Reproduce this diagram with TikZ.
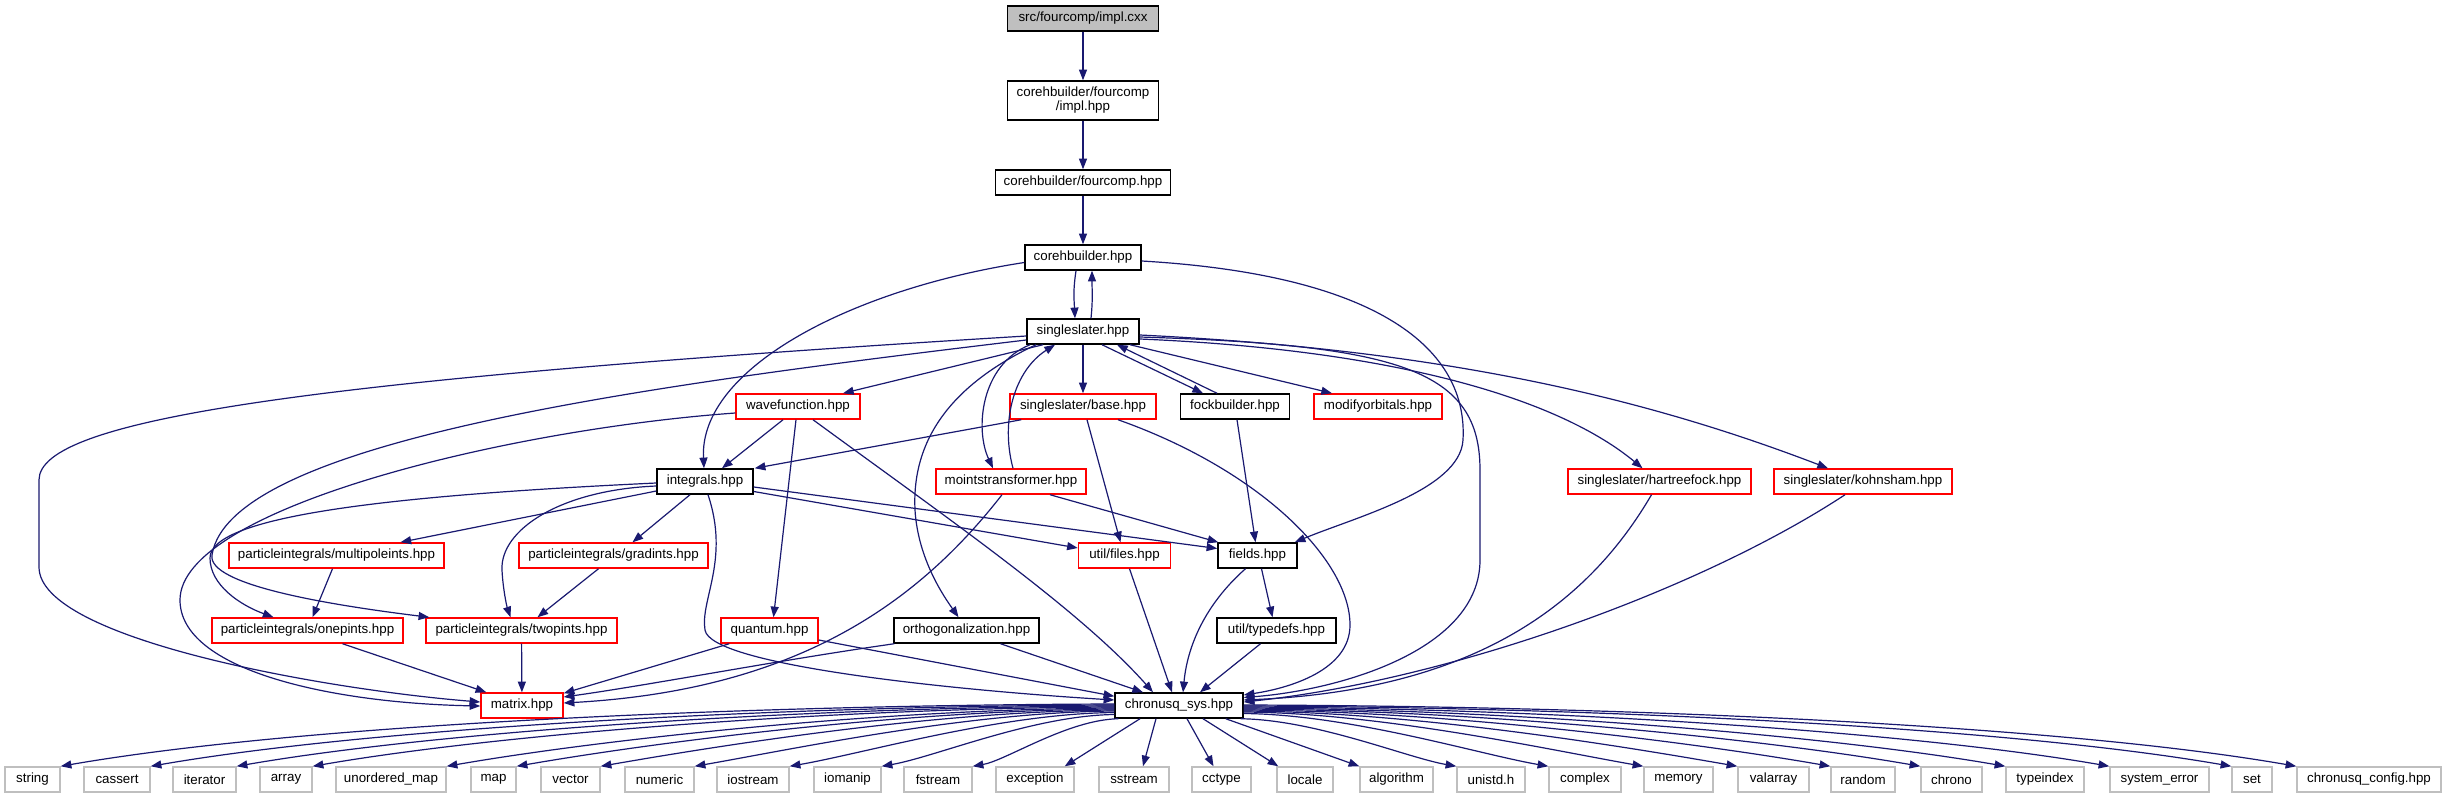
\documentclass[tikz,border=0pt]{standalone}
\usepackage{fontspec}
\setmainfont{Liberation Sans}
\usetikzlibrary{arrows.meta,calc}
\definecolor{edgec}{HTML}{191970}
\definecolor{greyl}{HTML}{BFBFBF}
\definecolor{redb}{HTML}{FF0000}
\newcommand\fanedge[2]{\draw[conn] let \p1=#1, \p2=#2 in (\p1) .. controls ({\x1+0.35*(\x2-\x1)},{\y1-0.8pt}) and ({\x2+0.23*(\x1-\x2)},{\y2+0.04*abs(\x2-\x1)}) .. (\p2);}
\begin{document}
\begin{tikzpicture}[x=0.75pt,y=-0.75pt,
  nbox/.style={draw, rectangle, inner sep=0pt, minimum height=18.75pt, font=\fontsize{10pt}{10.5pt}\selectfont, line width=1.1pt},
  bk/.style={nbox, draw=black},
  rd/.style={nbox, draw=redb},
  gy/.style={nbox, draw=greyl},
  wd/.style={minimum width=#1*0.75pt},
  conn/.style={draw=edgec, line width=0.9pt, -{Triangle[length=8pt,width=6pt]}}
]
\useasboundingbox (0,0) rectangle (2445,799);
\fill[white] (0,0) rectangle (2445,799);

% nodes
\node[bk, fill=greyl, wd=151] (root) at (1083,18.5) {src/fourcomp/impl.cxx};
\node[bk, wd=151, minimum height=29.25pt, align=center] (implhpp) at (1083,100.5) {corehbuilder/fourcomp\\/impl.hpp};
\node[bk, wd=175] (fourcomp) at (1083,182.5) {corehbuilder/fourcomp.hpp};
\node[bk, wd=116] (coreh) at (1083,257.5) {corehbuilder.hpp};
\node[bk, wd=112] (ss) at (1083,331.5) {singleslater.hpp};
\node[rd, wd=124] (wave) at (798,406.5) {wavefunction.hpp};
\node[rd, wd=146] (base) at (1083,406.5) {singleslater/base.hpp};
\node[bk, wd=109] (fock) at (1235,406.5) {fockbuilder.hpp};
\node[rd, wd=128] (modo) at (1378,406.5) {modifyorbitals.hpp};
\node[bk, wd=96] (integ) at (705,481.5) {integrals.hpp};
\node[rd, wd=150] (moints) at (1011,481.5) {mointstransformer.hpp};
\node[rd, wd=183] (hf) at (1659.5,481.5) {singleslater/hartreefock.hpp};
\node[rd, wd=178] (ks) at (1863,481.5) {singleslater/kohnsham.hpp};
\node[rd, wd=215] (multi) at (336.5,555.5) {particleintegrals/multipoleints.hpp};
\node[rd, wd=189] (grad) at (613.5,555.5) {particleintegrals/gradints.hpp};
\node[rd, wd=92] (files) at (1124.5,555.5) {util/files.hpp};
\node[bk, wd=79] (fields) at (1257.5,555.5) {fields.hpp};
\node[rd, wd=191] (onep) at (307.5,630.5) {particleintegrals/onepints.hpp};
\node[rd, wd=191] (twop) at (521.5,630.5) {particleintegrals/twopints.hpp};
\node[rd, wd=97] (quant) at (769.5,630.5) {quantum.hpp};
\node[bk, wd=145] (ortho) at (966.5,630.5) {orthogonalization.hpp};
\node[bk, wd=119] (typedefs) at (1276.5,630.5) {util/typedefs.hpp};
\node[rd, wd=82] (matrix) at (522,705.5) {matrix.hpp};
\node[bk, wd=128] (cs) at (1179,705.5) {chronusq\_sys.hpp};

% bottom row
\node[gy, wd=55] (string) at (32.5,779.5) {string};
\node[gy, wd=66] (cassert) at (117,779.5) {cassert};
\node[gy, wd=63] (iterator) at (204.5,779.5) {iterator};
\node[gy, wd=52] (array) at (286,779.5) {array};
\node[gy, wd=110] (umap) at (391,779.5) {unordered\_map};
\node[gy, wd=45] (map) at (493.5,779.5) {map};
\node[gy, wd=59] (vector) at (570.5,779.5) {vector};
\node[gy, wd=69] (numeric) at (659.5,779.5) {numeric};
\node[gy, wd=72] (iostream) at (753,779.5) {iostream};
\node[gy, wd=67] (iomanip) at (847.5,779.5) {iomanip};
\node[gy, wd=68] (fstream) at (938,779.5) {fstream};
\node[gy, wd=78] (exception) at (1035,779.5) {exception};
\node[gy, wd=70] (sstream) at (1134,779.5) {sstream};
\node[gy, wd=59] (cctype) at (1221.5,779.5) {cctype};
\node[gy, wd=56] (locale) at (1305,779.5) {locale};
\node[gy, wd=73] (algorithm) at (1396.5,779.5) {algorithm};
\node[gy, wd=68] (unistd) at (1491,779.5) {unistd.h};
\node[gy, wd=72] (complex) at (1585,779.5) {complex};
\node[gy, wd=69] (memory) at (1678.5,779.5) {memory};
\node[gy, wd=71] (valarray) at (1773.5,779.5) {valarray};
\node[gy, wd=64] (random) at (1863,779.5) {random};
\node[gy, wd=61] (chrono) at (1951.5,779.5) {chrono};
\node[gy, wd=78] (typeindex) at (2045,779.5) {typeindex};
\node[gy, wd=99] (syserr) at (2159.5,779.5) {system\_error};
\node[gy, wd=40] (set) at (2252,779.5) {set};
\node[gy, wd=144] (config) at (2369,779.5) {chronusq\_config.hpp};

% top chain
\draw[conn] (root) -- (implhpp);
\draw[conn] (implhpp) -- (fourcomp);
\draw[conn] (fourcomp) -- (coreh);
\draw[conn] ([shift={(-7,0)}]coreh.south) .. controls +(-3,20) and +(-1,-20) .. ([shift={(-8,0)}]ss.north);
\draw[conn] ([shift={(8,0)}]ss.north) .. controls +(2,-20) and +(0,20) .. ([shift={(9,0)}]coreh.south);
\draw[conn] ([shift={(0,5)}]coreh.west) .. controls +(-175,27) and +(-5,-99) .. ([shift={(-1,0)}]integ.north);
\draw[conn] ([shift={(0,3.5)}]coreh.east) .. controls +(239,14) and +(5,-90) .. (1463,440) .. controls +(-3,50) and +(60,-25) .. ([shift={(-3,0)}]fields.north east);

% singleslater edges
\draw[conn] ([shift={(0,4.5)}]ss.west) .. controls (300,380) and (39,420) .. (39,480) -- (39,567) .. controls (39,640) and (330,690) .. ([shift={(0,-3.5)}]matrix.west);
\draw[conn] ([shift={(0,8.5)}]ss.west) .. controls (650,385) and (230,440) .. (212,555) .. controls (207,585) and (330,605) .. ([shift={(4,0)}]twop.north west);
\draw[conn] ([shift={(-40,0)}]ss.south) -- ([shift={(45,0)}]wave.north);
\draw[conn] ([shift={(-53,0)}]ss.south) .. controls (980,365) and (975,430) .. ([shift={(-18,0)}]moints.north);
\draw[conn] ([shift={(2,0)}]moints.north) .. controls (1000,420) and (1015,370) .. ([shift={(-28,0)}]ss.south);
\draw[conn] ([shift={(-47,0)}]ss.south) .. controls (940,390) and (912,450) .. (915,510) .. controls (918,560) and (945,598) .. ([shift={(-8,0)}]ortho.north);
\draw[conn] (ss) -- (base);
\draw[conn] ([shift={(19,0)}]ss.south) -- ([shift={(-32,0)}]fock.north);
\draw[conn] ([shift={(-18,0)}]fock.north) -- ([shift={(34,0)}]ss.south);
\draw[conn] ([shift={(47,0)}]ss.south) -- ([shift={(-46,0)}]modo.north);
\draw[conn] ([shift={(0,5.5)}]ss.east) .. controls (1400,345) and (1480,370) .. (1480,470) -- (1480,560) .. controls (1480,650) and (1340,690) .. ([shift={(0,-8)}]cs.east);
\draw[conn] ([shift={(0,7.5)}]ss.east) .. controls (1400,350) and (1560,400) .. ([shift={(-17,0)}]hf.north);
\draw[conn] ([shift={(0,3.5)}]ss.east) .. controls (1450,350) and (1650,400) .. ([shift={(-35,0)}]ks.north);

% wavefunction
\draw[conn] ([shift={(0,6.5)}]wave.west) .. controls (500,430) and (180,510) .. (180,600) .. controls (180,670) and (330,703) .. ([shift={(0,0.5)}]matrix.west);
\draw[conn] ([shift={(-15,0)}]wave.south) -- ([shift={(17,0)}]integ.north);
\draw[conn] ([shift={(-2,0)}]wave.south) -- ([shift={(4,0)}]quant.north);
\draw[conn] ([shift={(15,0)}]wave.south) .. controls (950,520) and (1080,610) .. ([shift={(-26,0)}]cs.north);

% base
\draw[conn] ([shift={(12,0)}]base.south west) -- ([shift={(1,0)}]integ.north east);
\draw[conn] ([shift={(4,0)}]base.south) -- ([shift={(-4,0)}]files.north);
\draw[conn] ([shift={(35,0)}]base.south) .. controls (1260,470) and (1350,560) .. (1350,625) .. controls (1350,670) and (1290,688) .. ([shift={(0,-10.5)}]cs.east);

% fockbuilder
\draw[conn] ([shift={(2,0)}]fock.south) -- ([shift={(-2,0)}]fields.north);

% integrals
\draw[conn] ([shift={(0,1.5)}]integ.west) .. controls (400,495) and (210,515) .. (210,558) .. controls (210,585) and (240,605) .. ([shift={(-34,0)}]onep.north);
\draw[conn] ([shift={(0,9.5)}]integ.west) -- ([shift={(64,0)}]multi.north);
\draw[conn] ([shift={(0,4.5)}]integ.west) .. controls (560,490) and (500,530) .. (502,570) .. controls (503,590) and (507,607) .. ([shift={(-11,0)}]twop.north);
\draw[conn] ([shift={(-15,0)}]integ.south) -- ([shift={(19,0)}]grad.north);
\draw[conn] ([shift={(3,0)}]integ.south) .. controls (730,560) and (700,600) .. (705,630) .. controls (710,665) and (950,690) .. ([shift={(0,-5.5)}]cs.west);
\draw[conn] ([shift={(0,10)}]integ.east) -- ([shift={(0,-7.5)}]files.west);
\draw[conn] ([shift={(0,5.5)}]integ.east) -- ([shift={(0,-7)}]fields.west);

% particle integrals
\draw[conn] ([shift={(-15,0)}]grad.south) -- ([shift={(16,0)}]twop.north);
\draw[conn] ([shift={(-4,0)}]multi.south) -- ([shift={(5,0)}]onep.north);
\draw[conn] ([shift={(35,0)}]onep.south) -- ([shift={(6,0)}]matrix.north west);
\draw[conn] (twop) -- (matrix);

% quantum, ortho, moints
\draw[conn] ([shift={(9,0)}]quant.south west) -- ([shift={(0,1)}]matrix.north east);
\draw[conn] ([shift={(0,9.5)}]quant.east) -- ([shift={(0,4)}]cs.north west);
\draw[conn] ([shift={(1,0)}]ortho.south west) .. controls (780,660) and (650,685) .. ([shift={(0,-8.5)}]matrix.east);
\draw[conn] ([shift={(34,0)}]ortho.south) -- ([shift={(-36,0)}]cs.north);
\draw[conn] ([shift={(-9,0)}]moints.south) .. controls (920,600) and (800,690) .. ([shift={(0,-2.5)}]matrix.east);
\draw[conn] ([shift={(39,0)}]moints.south) -- ([shift={(1,0)}]fields.north west);

% files, fields, typedefs
\draw[conn] ([shift={(5,0)}]files.south) -- ([shift={(-7,0)}]cs.north);
\draw[conn] ([shift={(-12,0)}]fields.south) .. controls (1210,600) and (1188,640) .. ([shift={(4,0)}]cs.north);
\draw[conn] ([shift={(4,0)}]fields.south) -- ([shift={(-4,0)}]typedefs.north);
\draw[conn] ([shift={(-16,0)}]typedefs.south) -- ([shift={(21,0)}]cs.north);

% hartreefock, kohnsham
\draw[conn] ([shift={(-8,0)}]hf.south) .. controls (1590,600) and (1480,690) .. ([shift={(0,-5.5)}]cs.east);
\draw[conn] ([shift={(-18,0)}]ks.south) .. controls (1700,590) and (1450,680) .. ([shift={(0,-3.5)}]cs.east);

% chronusq_sys fan-out
\fanedge{([shift={(0,-1.5)}]cs.west)}{(string.north east)}
\fanedge{([shift={(0,-0.5)}]cs.west)}{(cassert.north east)}
\fanedge{([shift={(0,0.5)}]cs.west)}{(iterator.north east)}
\fanedge{([shift={(0,1.5)}]cs.west)}{(array.north east)}
\fanedge{([shift={(0,2.5)}]cs.west)}{(umap.north east)}
\fanedge{([shift={(0,3.5)}]cs.west)}{(map.north east)}
\fanedge{([shift={(0,4.5)}]cs.west)}{(vector.north east)}
\fanedge{([shift={(0,5.5)}]cs.west)}{(numeric.north east)}
\fanedge{([shift={(0,7)}]cs.west)}{(iostream.north east)}
\fanedge{([shift={(0,9)}]cs.west)}{(iomanip.north east)}
\fanedge{([shift={(4,0)}]cs.south west)}{(fstream.north east)}
\draw[conn] ([shift={(-39,0)}]cs.south) -- ([shift={(-10,0)}]exception.north east);
\draw[conn] ([shift={(-23,0)}]cs.south) -- ([shift={(9,0)}]sstream.north);
\draw[conn] ([shift={(8,0)}]cs.south) -- ([shift={(-8,0)}]cctype.north);
\draw[conn] ([shift={(24,0)}]cs.south) -- ([shift={(2,0)}]locale.north west);
\draw[conn] ([shift={(-18,0)}]cs.south east) -- (algorithm.north west);
\fanedge{([shift={(-3,0)}]cs.south east)}{(unistd.north west)}
\fanedge{([shift={(0,8)}]cs.east)}{(complex.north west)}
\fanedge{([shift={(0,6.5)}]cs.east)}{(memory.north west)}
\fanedge{([shift={(0,5.5)}]cs.east)}{(valarray.north west)}
\fanedge{([shift={(0,4.5)}]cs.east)}{(random.north west)}
\fanedge{([shift={(0,3.5)}]cs.east)}{(chrono.north west)}
\fanedge{([shift={(0,2.5)}]cs.east)}{(typeindex.north west)}
\fanedge{([shift={(0,1.5)}]cs.east)}{(syserr.north west)}
\fanedge{([shift={(0,0.5)}]cs.east)}{(set.north west)}
\fanedge{([shift={(0,-0.5)}]cs.east)}{(config.north west)}
\end{tikzpicture}
\end{document}
